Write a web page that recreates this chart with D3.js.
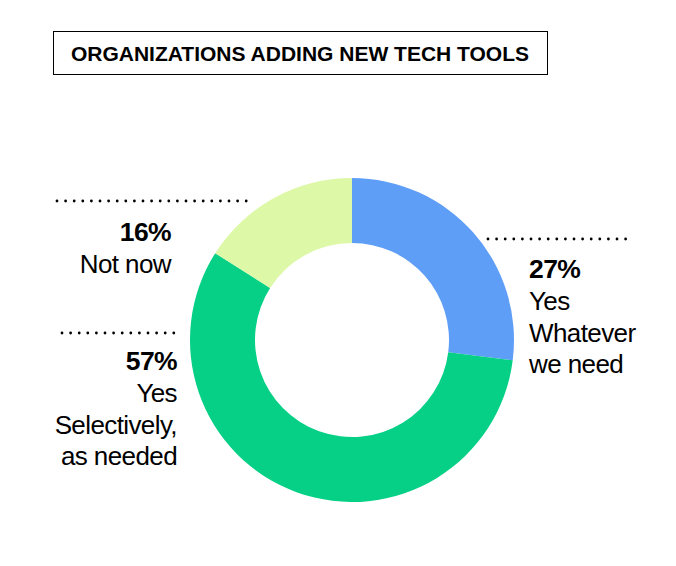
<!doctype html>
<html>
<head>
<meta charset="utf-8">
<script src="https://d3js.org/d3.v7.min.js"></script>
<style>
  body { margin: 0; background: #fff; }
  svg text { font-family: "Liberation Sans", Arial, sans-serif; fill: #000; }
</style>
</head>
<body>
<svg width="676" height="566"></svg>
<script>
var title = "ORGANIZATIONS ADDING NEW TECH TOOLS";
var categories = ["Yes, whatever we need", "Yes, selectively, as needed", "Not now"];
var values = [27, 57, 16];
var labelLines = [["Yes", "Whatever", "we need"], ["Yes", "Selectively,", "as needed"], ["Not now"]];
var colors = ["#5f9ef7", "#05d086", "#ddf8a7"];

var svg = d3.select("svg"),
    cx = 352, cy = 340,
    outerR = 162, innerR = 97;

// title box
svg.append("rect")
   .attr("x", 53.5).attr("y", 31.5)
   .attr("width", 494).attr("height", 43)
   .attr("fill", "none").attr("stroke", "#000").attr("stroke-width", 1);
svg.append("text")
   .attr("x", 300).attr("y", 61)
   .attr("text-anchor", "middle")
   .attr("font-size", "21px").attr("font-weight", "bold")
   .text(title);

var pie = d3.pie().sort(null).value(function(d) { return d; });
var arc = d3.arc().innerRadius(innerR).outerRadius(outerR);

var g = svg.append("g").attr("transform", "translate(" + cx + "," + cy + ")");
g.selectAll("path")
 .data(pie(values))
 .enter().append("path")
 .attr("d", arc)
 .attr("fill", function(d, i) { return colors[i]; });

// label layout: leader line ends and text anchor per slice
var layout = [
  { x1: 488, x2: 633, ly: 239, tx: 529, ty: 278, anchor: "start" },
  { x1: 62,  x2: 180, ly: 333, tx: 177, ty: 370, anchor: "end" },
  { x1: 57,  x2: 247, ly: 201, tx: 171, ty: 241, anchor: "end" }
];

layout.forEach(function(l, i) {
  svg.append("line")
     .attr("x1", l.x1).attr("x2", l.x2)
     .attr("y1", l.ly).attr("y2", l.ly)
     .attr("stroke", "#000").attr("stroke-width", 2.8)
     .attr("stroke-linecap", "round")
     .attr("stroke-dasharray", "0,8.6");

  var t = svg.append("text")
     .attr("x", l.tx).attr("y", l.ty)
     .attr("text-anchor", l.anchor)
     .attr("font-size", "26px")
     .attr("letter-spacing", "-0.6px");
  t.append("tspan")
   .attr("x", l.tx)
   .attr("font-weight", "bold")
   .attr("font-size", "26.5px")
   .text(values[i] + "%");
  labelLines[i].forEach(function(line, j) {
    t.append("tspan")
     .attr("x", l.tx)
     .attr("dy", j === 0 ? 32 : 31.5)
     .text(line);
  });
});
</script>
</body>
</html>
